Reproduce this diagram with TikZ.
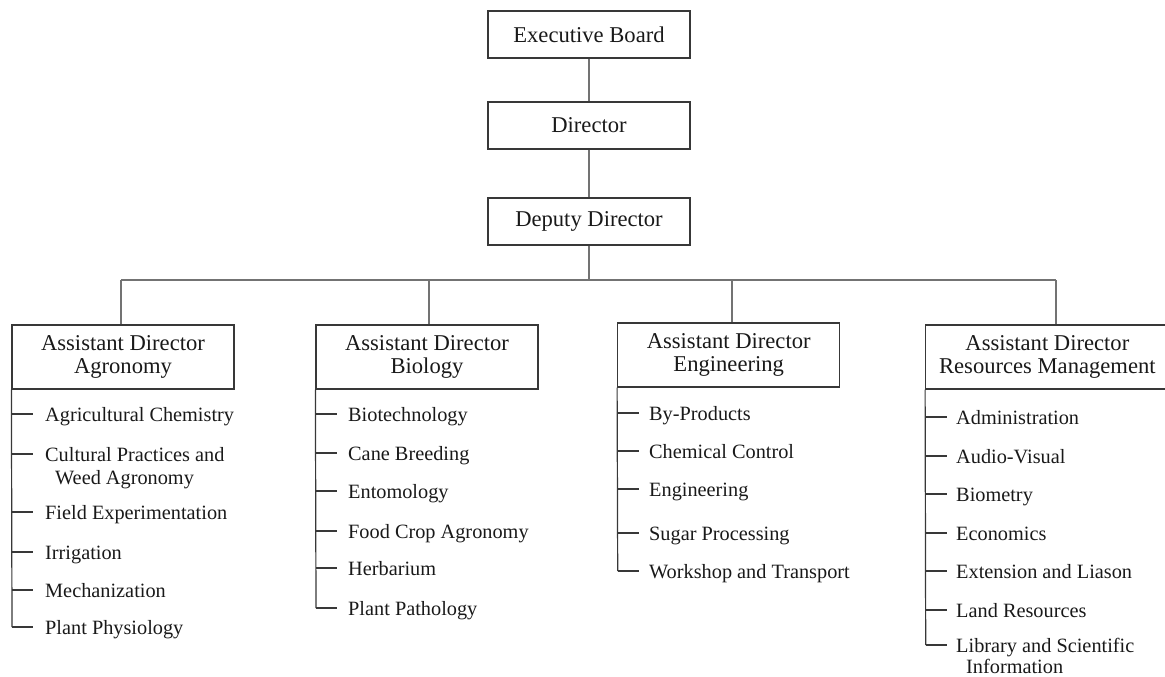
\documentclass[tikz,border=0pt]{standalone}
\usepackage{fontspec}
\setmainfont{Liberation Serif}
\definecolor{linec}{gray}{0.45}
\definecolor{boxc}{gray}{0.22}
\definecolor{txtc}{gray}{0.1}
\newcommand\twoline[3]{\vtop{\baselineskip=#1pt\hbox{#2}\hbox{\hspace*{10pt}#3}}}
\begin{document}
\begin{tikzpicture}[x=1pt,y=-1pt,
  box/.style={draw=boxc, line width=1.2pt, inner sep=0pt, text=txtc,
    font=\fontsize{22.6}{23.5}\selectfont, align=center},
  item/.style={font=\fontsize{20.3}{23}\selectfont, inner sep=0pt, text=txtc},
  conn/.style={draw=linec, line width=1.6pt},
  tick/.style={draw=boxc, line width=1.2pt}]
\useasboundingbox (0,0) rectangle (1165,677);
\clip (0,0) rectangle (1165,677);

% top chain
\node[box, minimum width=202pt, minimum height=47pt] (eb) at (589,34.5) {Executive Board};
\node[box, minimum width=202pt, minimum height=47pt] (dir) at (589,125.5) {Director};
\node[box, minimum width=202pt, minimum height=47pt] (dd) at (589,221.5) {Deputy Director};
\draw[conn] (eb) -- (dir);
\draw[conn] (dir) -- (dd);

% assistant directors
\node[box, minimum width=222pt, minimum height=64pt] (ag) at (123,357) {Assistant Director\\Agronomy};
\node[box, minimum width=222pt, minimum height=64pt] (bio) at (427,357) {Assistant Director\\Biology};
\node[box, minimum width=222pt, minimum height=64pt] (eng) at (728.7,355) {Assistant Director\\Engineering};
\node[box, minimum width=243.3pt, minimum height=64pt] (res) at (1047.35,357) {Assistant Director\\Resources Management};

% bus
\coordinate (bus) at (589,280);
\coordinate (busL) at (121,280);
\coordinate (busR) at (1056,280);
\draw[conn] (dd) -- (bus);
\draw[conn] (busL) -- (busR);
\draw[conn] (busL) -- (ag.north -| busL);
\draw[conn] (429,280) -- (bio.north -| 429,0);
\draw[conn] (731.7,280) -- (eng.north -| 731.7,0);
\draw[conn] (busR) -- (res.north -| busR);

% Agronomy
\foreach \n/\yy/\lbl in {1/414/Agricultural Chemistry,
  2/454/{\twoline{23.3}{Cultural Practices and}{Weed Agronomy}},
  3/512/Field Experimentation, 4/552/Irrigation, 5/590/Mechanization,
  6/627/Plant Physiology}{
  \node[item, anchor=base west] (ag\n) at (45,\yy+7.5) {\lbl};
  \draw[tick] (12,\yy) -- (33,\yy);
}
\draw[tick] (ag.south west) -- (12,627);

% Biology
\foreach \n/\yy/\lbl in {1/414/Biotechnology, 2/453/Cane Breeding,
  3/491/Entomology, 4/531/Food Crop Agronomy, 5/568/Herbarium,
  6/608/Plant Pathology}{
  \node[item, anchor=base west] (bio\n) at (348,\yy+7.5) {\lbl};
  \draw[tick] (316,\yy) -- (337,\yy);
}
\draw[tick] (bio.south west) -- (316,608);

% Engineering
\foreach \n/\yy/\lbl in {1/413/By-Products, 2/451/Chemical Control,
  3/489/Engineering, 4/533/Sugar Processing, 5/571/Workshop and Transport}{
  \node[item, anchor=base west] (eng\n) at (649,\yy+7.5) {\lbl};
  \draw[tick] (617.7,\yy) -- (638.7,\yy);
}
\draw[tick] (eng.south west) -- (617.7,571);

% Resources Management
\foreach \n/\yy/\lbl in {1/417/Administration, 2/456/Audio-Visual,
  3/494/Biometry, 4/533/Economics, 5/571/Extension and Liason,
  6/610/Land Resources,
  7/645/{\twoline{20.5}{Library and Scientific}{Information}}}{
  \node[item, anchor=base west] (res\n) at (956,\yy+7.5) {\lbl};
  \draw[tick] (925.7,\yy) -- (946.7,\yy);
}
\draw[tick] (res.south west) -- (925.7,645);
\end{tikzpicture}
\end{document}
